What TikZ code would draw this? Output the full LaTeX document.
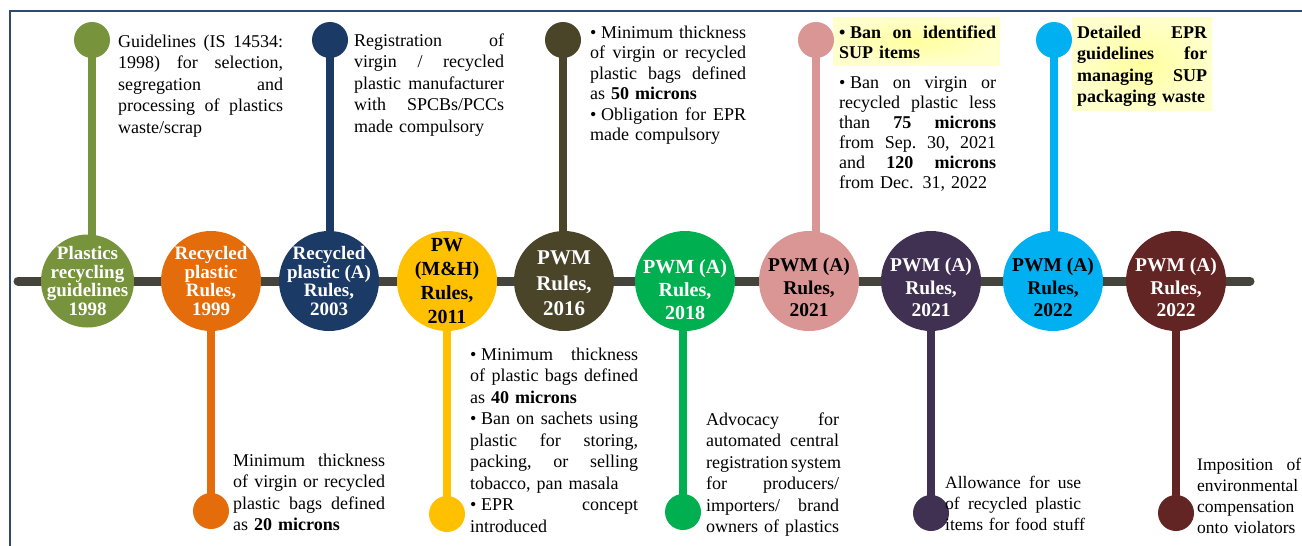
\documentclass[tikz,border=0pt]{standalone}
\usepackage{fontspec}
\setmainfont{Liberation Serif}
\usetikzlibrary{backgrounds}
\definecolor{cA}{HTML}{77933C}
\definecolor{cB}{HTML}{E46C0A}
\definecolor{cC}{HTML}{1B3A66}
\definecolor{cD}{HTML}{FFC000}
\definecolor{cE}{HTML}{4A4429}
\definecolor{cF}{HTML}{00B050}
\definecolor{cG}{HTML}{D99694}
\definecolor{cH}{HTML}{403152}
\definecolor{cI}{HTML}{00B0F0}
\definecolor{cJ}{HTML}{632523}
\definecolor{barcol}{HTML}{45443C}
\definecolor{framecol}{HTML}{2E4A70}
\definecolor{hlin}{HTML}{FFFF9E}
\definecolor{hlout}{HTML}{FFFFCC}
\newlength{\jwid}
\newcommand{\jl}[1]{\leavevmode\hbox to \jwid{\frenchspacing\spaceskip=0.25em plus 1fil minus 0.08em\relax #1}}
\newcommand{\bul}{•\kern0.25em}
\begin{document}
\begin{tikzpicture}[x=1pt,y=-1pt,
  main/.style={circle,fill=#1,minimum size=100pt,inner sep=0pt},
  dot/.style={circle,fill=#1,minimum size=36pt,inner sep=0pt},
  stem/.style={draw=#1,line width=8pt},
  barline/.style={draw=barcol,line width=9pt,line cap=round},
  frameline/.style={draw=framecol,line width=2.5pt},
  hlbox/.style={inner color=hlin,outer color=hlout},
  lblfour/.style={align=center,inner sep=0pt,font=\bfseries\fontsize{19}{18.5}\selectfont},
  lblpw/.style={align=center,inner sep=0pt,font=\bfseries\fontsize{20}{24}\selectfont},
  lblbig/.style={align=center,inner sep=0pt,font=\bfseries\fontsize{21}{25.5}\selectfont},
  lblmid/.style={align=center,inner sep=0pt,font=\bfseries\fontsize{20}{23}\selectfont},
  lblthree/.style={align=center,inner sep=0pt,font=\bfseries\fontsize{19.5}{22.5}\selectfont},
  txt/.style={anchor=north west,inner sep=0pt,text width=#1+8pt,align=left,
    font=\fontsize{18}{21.5}\selectfont,execute at begin node={\setlength{\jwid}{#1}}},
  txts/.style={anchor=north west,inner sep=0pt,text width=#1+8pt,align=left,
    font=\fontsize{17.5}{21}\selectfont,execute at begin node={\setlength{\jwid}{#1}}},
]
\useasboundingbox (0,0) rectangle (1302,546);

% main circles
\node[main=cA,minimum size=93pt] (m1) at (87.5,281) {};
\node[main=cB] (m2) at (211,281) {};
\node[main=cC] (m3) at (329,281) {};
\node[main=cD] (m4) at (447,281) {};
\node[main=cE] (m5) at (564,281) {};
\node[main=cF] (m6) at (685,281) {};
\node[main=cG] (m7) at (809,281) {};
\node[main=cH] (m8) at (931,281) {};
\node[main=cI] (m9) at (1053,281) {};
\node[main=cJ] (m10) at (1176,281) {};

% circle labels
\node[lblfour,text=white] (l1) at (87.5,281) {Plastics\\recycling\\guidelines\\1998};
\node[lblfour,text=white] (l2) at (211,281) {Recycled\\plastic\\Rules,\\1999};
\node[lblfour,text=white] (l3) at (329,281) {Recycled\\plastic (A)\\Rules,\\2003};
\node[lblpw,text=black] (l4) at (447,281) {PW\\(M\&H)\\Rules,\\2011};
\node[lblbig,text=white] (l5) at (564,283.5) {PWM\\Rules,\\2016};
\node[lblmid,text=white] (l6) at (685,290) {PWM (A)\\Rules,\\2018};
\node[lblthree,text=black] (l7) at (809,287.5) {PWM (A)\\Rules,\\2021};
\node[lblthree,text=white] (l8) at (931,287.5) {PWM (A)\\Rules,\\2021};
\node[lblthree,text=black] (l9) at (1053,287.5) {PWM (A)\\Rules,\\2022};
\node[lblthree,text=white] (l10) at (1176,287.5) {PWM (A)\\Rules,\\2022};

% end dots
\node[dot=cA] (t1) at (92,40) {};
\node[dot=cC] (t3) at (330,40) {};
\node[dot=cE] (t5) at (563,40) {};
\node[dot=cG] (t7) at (816,40) {};
\node[dot=cI] (t9) at (1054,40) {};
\node[dot=cB] (b2) at (211,511) {};
\node[dot=cD] (b4) at (447,514) {};
\node[dot=cF] (b6) at (683,512) {};
\node[dot=cH] (b8) at (931,513) {};
\node[dot=cJ] (b10) at (1176,513) {};

\coordinate (barL) at (18,281);
\coordinate (barR) at (1250,281);
\coordinate (f1) at (10,550);
\coordinate (f2) at (10,11);
\coordinate (f3) at (1310,11);

\begin{scope}[on background layer]
  \fill[white] (0,0) rectangle (1302,546);
  \draw[frameline] (f1) -- (f2) -- (f3);
  \shade[hlbox] (833,17) rectangle (1000,65);
  \shade[hlbox] (1072,17) rectangle (1212,110);
  \draw[barline] (barL) -- (barR);
  \draw[stem=cA] (t1.center) -- (t1.center |- m1.center);
  \draw[stem=cC] (t3.center) -- (t3.center |- m3.center);
  \draw[stem=cE] (t5.center) -- (t5.center |- m5.center);
  \draw[stem=cG] (t7.center) -- (t7.center |- m7.center);
  \draw[stem=cI] (t9.center) -- (t9.center |- m9.center);
  \draw[stem=cB] (b2.center) -- (b2.center |- m2.center);
  \draw[stem=cD] (b4.center) -- (b4.center |- m4.center);
  \draw[stem=cF] (b6.center) -- (b6.center |- m6.center);
  \draw[stem=cH] (b8.center) -- (b8.center |- m8.center);
  \draw[stem=cJ] (b10.center) -- (b10.center |- m10.center);
\end{scope}

% top texts
\node[txt=165pt] (T1) at (118,32) {\strut\jl{Guidelines (IS 14534:}\\\jl{1998) for selection,}\\\jl{segregation and}\\\jl{processing of plastics}\\\mbox{waste/scrap}};
\node[txt=150pt] (T3) at (354,31) {\strut\jl{Registration of}\\\jl{virgin / recycled}\\\jl{plastic manufacturer}\\\jl{with SPCBs/PCCs}\\\mbox{made compulsory}};
\node[txt=156pt,font=\fontsize{18}{20.5}\selectfont] (T5) at (590,23.6) {\strut\jl{\bul Minimum thickness}\\\jl{of virgin or recycled}\\\jl{plastic bags defined}\\\mbox{as \textbf{50 microns}}\\\jl{\bul Obligation for EPR}\\\mbox{made compulsory}};
\node[txt=157pt,font=\fontsize{18}{20}\selectfont] (T7a) at (839,24) {\strut\jl{\textbf{\bul Ban on identified}}\\\mbox{\textbf{SUP items}}};
\node[txt=157pt,font=\fontsize{18}{20}\selectfont] (T7b) at (839,74) {\strut\jl{\bul Ban on virgin or}\\\jl{recycled plastic less}\\\jl{than \textbf{75 microns}}\\\jl{from Sep. 30, 2021}\\\jl{and \textbf{120 microns}}\\\mbox{from Dec. 31, 2022}};
\node[txt=130pt,font=\bfseries\fontsize{18}{21.5}\selectfont] (T9) at (1077,23) {\strut\jl{Detailed EPR}\\\jl{guidelines for}\\\jl{managing SUP}\\\mbox{packaging waste}};

% bottom texts
\node[txt=152pt] (B2) at (233,451) {\strut\jl{Minimum thickness}\\\jl{of virgin or recycled}\\\jl{plastic bags defined}\\\mbox{as \textbf{20 microns}}};
\node[txt=168pt] (B4) at (470,345) {\strut\jl{\bul Minimum thickness}\\\jl{of plastic bags defined}\\\mbox{as \textbf{40 microns}}\\\jl{\bul Ban on sachets using}\\\jl{plastic for storing,}\\\jl{packing, or selling}\\\mbox{tobacco, pan masala}\\\jl{\bul EPR concept}\\\mbox{introduced}};
\node[txt=133pt] (B6) at (706,410) {\strut\jl{Advocacy for}\\\jl{automated central}\\\jl{registration system}\\\jl{for producers/}\\\jl{importers/ brand}\\\mbox{owners of plastics}};
\node[txts=136pt] (B8) at (945,474) {\strut\jl{Allowance for use}\\\jl{of recycled plastic}\\\mbox{items for food stuff}};
\node[txts=104pt] (B10) at (1197,456) {\strut\jl{Imposition of}\\\mbox{environmental}\\\mbox{compensation}\\\mbox{onto violators}};
\end{tikzpicture}
\end{document}
